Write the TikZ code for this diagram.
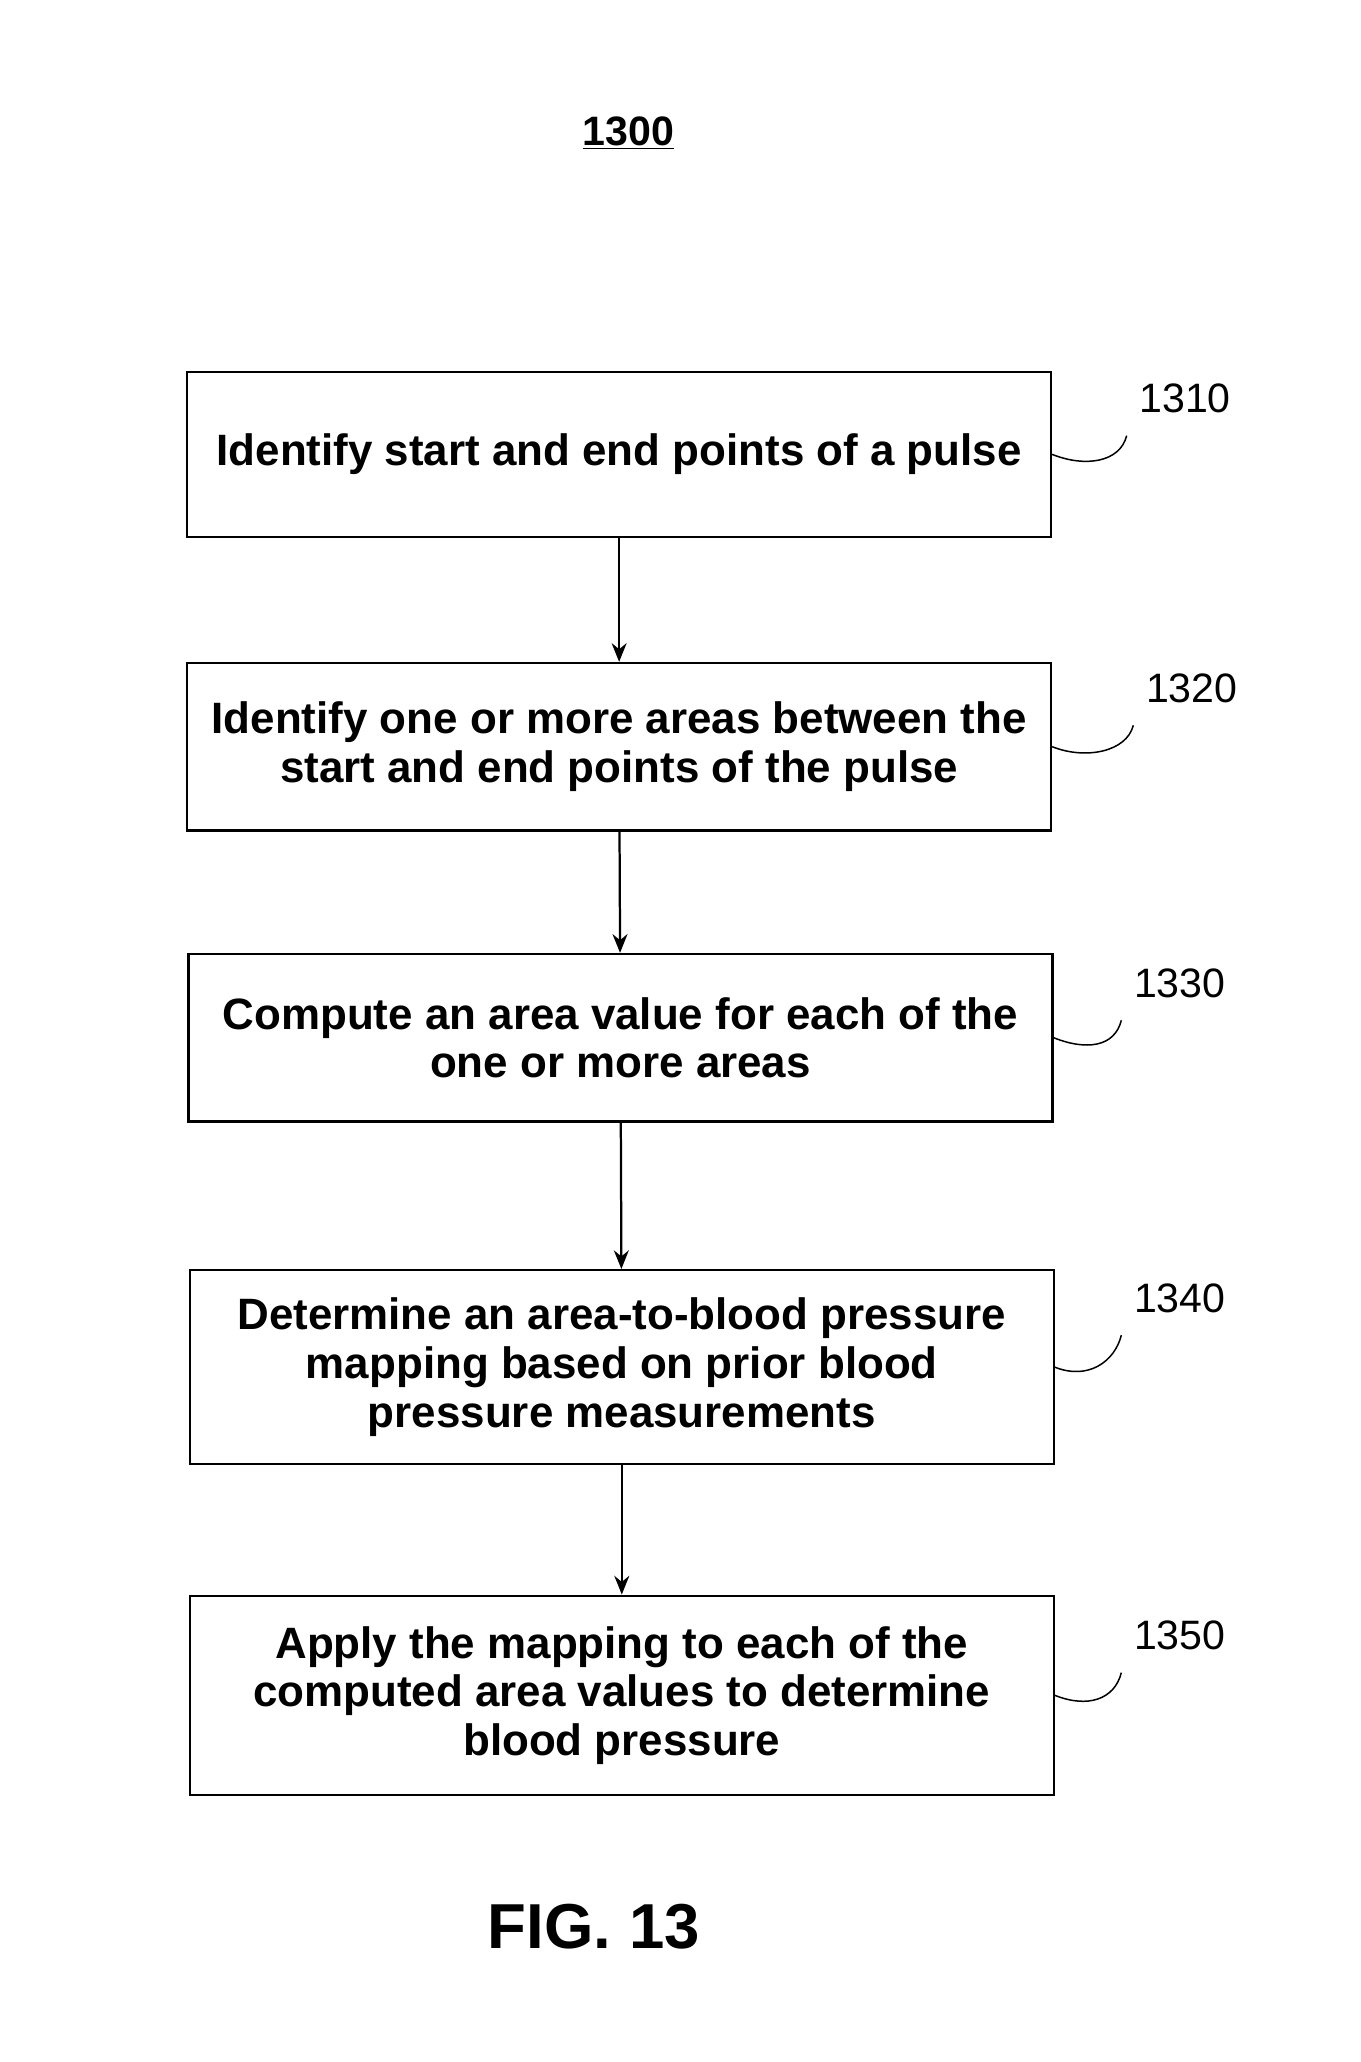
\documentclass[tikz,border=0pt]{standalone}
\usepackage{fontspec}
\setmainfont{Liberation Sans}
\usetikzlibrary{positioning, arrows}
\tikzset{
>=stealth', % bold arrow heads
stepbox/.style={draw, line width=1.2pt, minimum width=16.25cm, inner sep=1pt, align=center, font=\fontsize{23.5}{26}\selectfont\bfseries},
ref/.style={font=\fontsize{22}{24}\selectfont},
flow/.style={->, line width=1.2pt, >={Stealth[length=10pt, width=8pt]}},
}
\usetikzlibrary{arrows.meta}

\begin{document}
\begin{tikzpicture}[x=0.025cm, y=-0.025cm]
        \useasboundingbox (0,0) rectangle (1024,1552);
        \node[font=\fontsize{22}{24}\selectfont\bfseries] (title) at (473,100) {\underline{1300}};

        \node[stepbox, minimum height=3.1cm] (s1) at (466,342) {Identify start and end points of a pulse};
        \node[stepbox, minimum height=3.15cm] (s2) at (466,562) {Identify one or more areas between the\\start and end points of the pulse};
        \node[stepbox, minimum height=3.15cm] (s3) at (467,781) {Compute an area value for each of the\\one or more areas};
        \node[stepbox, minimum height=3.65cm] (s4) at (468,1029) {Determine an area-to-blood pressure\\mapping based on prior blood\\pressure measurements};
        \node[stepbox, minimum height=3.75cm] (s5) at (468,1276) {Apply the mapping to each of the\\computed area values to determine\\blood pressure};

        \node[ref] (r1) at (892,300) {1310};
        \node[ref] (r2) at (897,518) {1320};
        \node[ref] (r3) at (888,740) {1330};
        \node[ref] (r4) at (888,977) {1340};
        \node[ref] (r5) at (888,1231) {1350};

        \node[font=\fontsize{34}{38}\selectfont\bfseries] (fig) at (447,1450) {FIG. 13};

        \draw[flow] (s1) -- (s2);
        \draw[flow] (s2) -- (s3);
        \draw[flow] (s3) -- (s4);
        \draw[flow] (s4) -- (s5);

        % squiggles to the reference numbers
        \foreach \s/\r in {s1/r1, s2/r2, s3/r3, s4/r4, s5/r5}
            \draw[line width=0.8pt] (\s.east) .. controls +(25,10) and +(-5,20) .. ([xshift=-1.1cm, yshift=-0.3cm]\r.south);
\end{tikzpicture}
\end{document}
